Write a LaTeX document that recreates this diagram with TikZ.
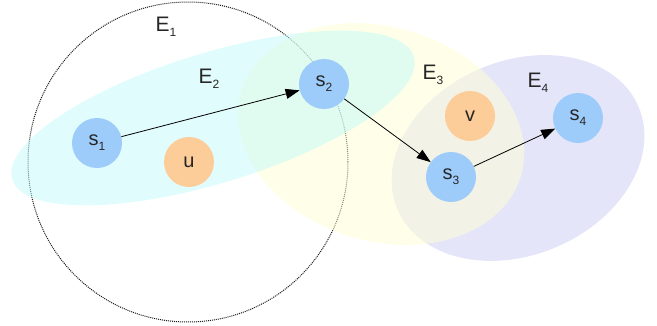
\documentclass[tikz,border=0pt]{standalone}
\usepackage{fontspec}
\setmainfont{Liberation Sans}
\usepackage{tikz}
\usetikzlibrary{arrows.meta, positioning}

\definecolor{vertexblue}{RGB}{157,203,250}
\definecolor{vertexorange}{RGB}{252,204,153}
\definecolor{edgecyan}{RGB}{194,249,249}
\definecolor{edgeyellow}{RGB}{255,255,212}
\definecolor{edgelavender}{RGB}{204,204,245}

\newcommand{\lowsub}[1]{\raisebox{-0.45ex}{\fontsize{12}{12}\selectfont #1}}

\tikzstyle{vertex} = [
  circle, fill=vertexblue, minimum size=50pt, inner sep=0pt,
  font=\fontsize{20}{24}\selectfont, text=black!85
]
\tikzstyle{freevertex} = [vertex, fill=vertexorange]
\tikzstyle{edgelabel} = [font=\fontsize{21}{25}\selectfont, text=black!85]
\tikzstyle{hyperedge} = [fill opacity=0.5]
\tikzstyle{arrow} = [-{Triangle[length=14pt, width=10pt]}, line width=0.8pt]

\begin{document}
\begin{tikzpicture}[x=1pt, y=1pt]

  \useasboundingbox (0,0) rectangle (657,-326);

  % E1 is the dotted circle, the others are filled ellipses
  \draw[dash pattern=on 1pt off 1pt, line width=1pt, black!90] (188,-162) circle [radius=160pt];
  \fill[hyperedge, edgelavender, shift={(518,-158)}, rotate=23] (0,0) ellipse [x radius=131pt, y radius=97pt];
  \fill[hyperedge, edgeyellow, shift={(381,-134)}, rotate=-17] (0,0) ellipse [x radius=146pt, y radius=107pt];
  \fill[hyperedge, edgecyan, shift={(213,-118)}, rotate=17] (0,0) ellipse [x radius=210pt, y radius=65pt];

  \node[edgelabel] (e1) at (166,-27) {E\lowsub{1}};
  \node[edgelabel] (e2) at (209,-79) {E\lowsub{2}};
  \node[edgelabel] (e3) at (433,-75) {E\lowsub{3}};
  \node[edgelabel] (e4) at (538,-83) {E\lowsub{4}};

  \node[vertex] (s1) at (97,-143) {s\lowsub{1}};
  \node[vertex] (s2) at (324,-84) {s\lowsub{2}};
  \node[vertex] (s3) at (451,-177) {s\lowsub{3}};
  \node[vertex] (s4) at (578,-118) {s\lowsub{4}};
  \node[freevertex] (u) at (189,-162) {u};
  \node[freevertex] (v) at (470,-116) {v};

  \draw[arrow] (s1) -- (s2);
  \draw[arrow] (s2) -- (s3);
  \draw[arrow] (s3) -- (s4);

\end{tikzpicture}
\end{document}
